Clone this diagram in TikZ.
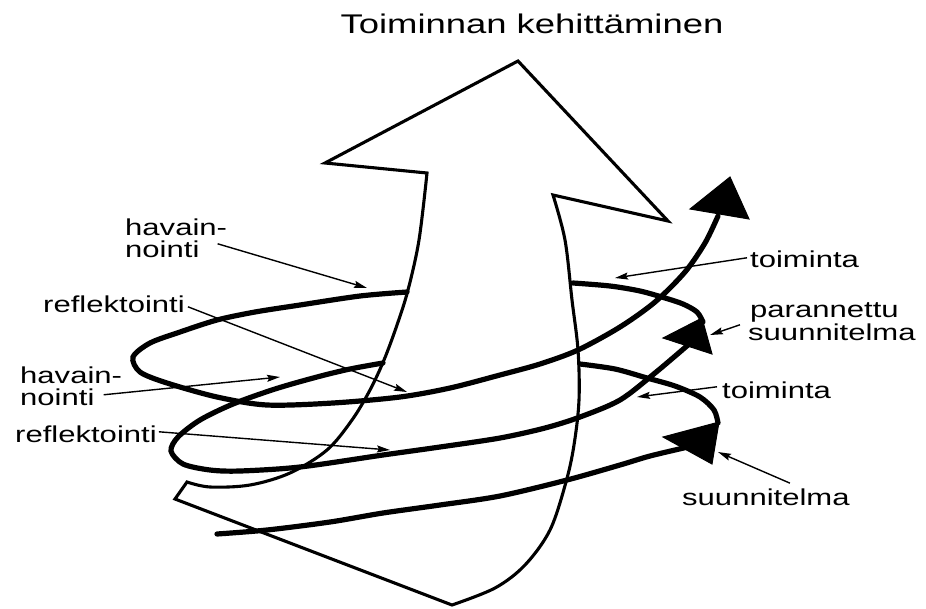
\documentclass[tikz,border=0pt]{standalone}
\usepackage{fontspec}
\setmainfont{Liberation Sans}
\newfontfamily\labfont[FakeStretch=1.35]{Liberation Sans}
\usetikzlibrary{arrows.meta}
\begin{document}
\begin{tikzpicture}[x=1pt,y=-1pt,
  outline/.style={line width=3.1pt, line join=miter},
  coil/.style={line width=5.2pt, line cap=round},
  headfill/.style={fill=black, draw=black, line width=1pt, line join=miter},
  lab/.style={font=\labfont\fontsize{23}{26}\selectfont, inner sep=0pt, anchor=base west},
  labarrow/.style={line width=1.4pt, -{Stealth[length=13pt,width=7pt,inset=2pt]}}
]
\useasboundingbox (0,0) rectangle (926,608);

% title
\node[font=\labfont\fontsize{27}{30}\selectfont, inner sep=0pt, anchor=base] (title) at (532,33) {Toiminnan kehittäminen};

% big arrow
\draw[outline] (518,61) -- (668,221) -- (553,195)
  -- plot[smooth, tension=0.55] coordinates {(553,195) (565,240) (572,300) (578,350) (579,400) (574,445) (566,482) (550,530) (525,565) (495,588) (452,605)}
  -- (175,499) -- (187,482)
  -- plot[smooth, tension=0.55] coordinates {(187,482) (210,487) (250,485) (290,473) (327,450) (352,420) (370,390) (384,360) (397,325) (408,290) (419,240) (427,173)}
  -- (325,163) -- cycle;

% spiral, visible parts
\draw[coil] plot[smooth] coordinates {(217,534) (267,530) (330,522) (383,513) (440,505) (500,496) (567,480) (620,465) (650,456) (688,447)};
\draw[coil] plot[smooth] coordinates {(718,423) (714,410) (700,397) (675,386) (647,378) (615,369) (580,364)};
\draw[coil] plot[smooth] coordinates {(383,363) (350,369) (317,377) (275,389) (233,404) (200,420) (178,437) (171,451) (183,464) (210,470) (240,471) (300,467) (383,455) (440,447) (500,438) (545,428) (580,417) (620,400) (655,373) (688,345)};
\draw[coil] plot[smooth] coordinates {(703,322) (697,312) (683,304) (665,298) (640,291) (610,286) (573,283)};
\draw[coil] plot[smooth] coordinates {(407,292) (360,296) (300,305) (255,312) (217,320) (180,332) (150,343) (133,357) (140,372) (167,383) (217,397) (267,405) (333,403) (400,397) (450,388) (500,375) (540,364) (578,350) (620,327) (655,302) (685,272) (705,243) (718,216)};

% spiral arrowheads
\filldraw[headfill] (663,437) -- (719,422) -- (712,464) -- cycle;
\filldraw[headfill] (663,338) -- (702,318) -- (712,354) -- cycle;
\filldraw[headfill] (690,209) -- (730,177) -- (749,219) -- cycle;

% labels
\node[lab] (hav1a) at (125,235) {havain-};
\node[lab] (hav1b) at (125,257) {nointi};
\node[lab] (ref1) at (43,312) {reflektointi};
\node[lab] (hav2a) at (20,383) {havain-};
\node[lab] (hav2b) at (20,405) {nointi};
\node[lab] (ref2) at (15,442) {reflektointi};
\node[lab] (toi1) at (750,267) {toiminta};
\node[lab] (par1) at (750,317) {parannettu};
\node[lab] (par2) at (748,340) {suunnitelma};
\node[lab] (toi2) at (722,398) {toiminta};
\node[lab] (suu) at (682,505) {suunnitelma};

% label targets
\coordinate (t1) at (367,288);
\coordinate (t2) at (407,392);
\coordinate (t3) at (280,377);
\coordinate (t4) at (390,450);
\coordinate (t5) at (615,278);
\coordinate (t6) at (710,335);
\coordinate (t7) at (637,397);
\coordinate (t8) at (718,452);

\draw[labarrow] ([shift={(18,-5)}]hav1b.east) -- (t1);
\draw[labarrow] ([shift={(3,3)}]ref1.east) -- (t2);
\draw[labarrow] ([shift={(9,-2)}]hav2b.east) -- (t3);
\draw[labarrow] ([shift={(2,-2)}]ref2.east) -- (t4);
\draw[labarrow] ([shift={(-3,-1)}]toi1.west) -- (t5);
\draw[labarrow] ([shift={(-8,-7)}]par2.west) -- (t6);
\draw[labarrow] ([shift={(-5,-3)}]toi2.west) -- (t7);
\draw[labarrow] ([shift={(24,-5)}]suu.north) -- (t8);
\end{tikzpicture}
\end{document}
